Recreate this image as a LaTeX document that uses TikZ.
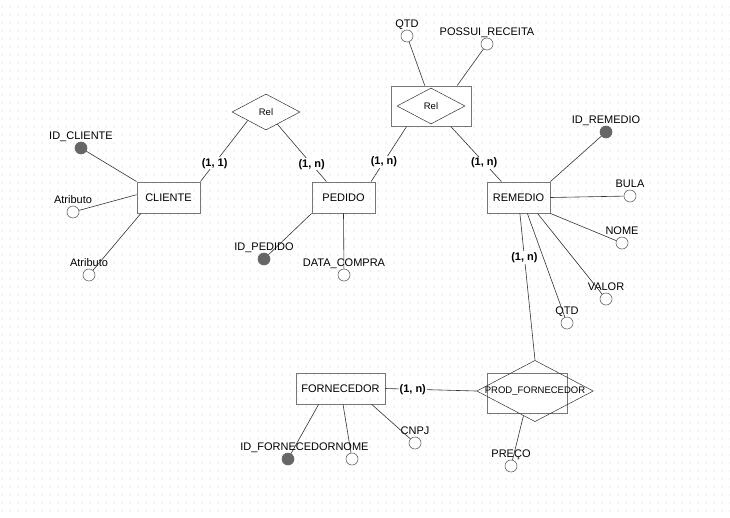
\documentclass[tikz,border=0pt]{standalone}
\usepackage{fontspec}
\setmainfont{Liberation Sans}
\usetikzlibrary{shapes.geometric}
\definecolor{edgegray}{HTML}{333333}
\definecolor{boxgray}{HTML}{777777}
\definecolor{keygray}{HTML}{666666}
\begin{document}
\begin{tikzpicture}[x=1pt, y=-1pt, font=\fontsize{11}{13}\selectfont]
        \tikzset{entity/.style={draw=boxgray, line width=0.9pt, minimum width=63pt, minimum height=31pt, inner sep=0pt},
            relbox/.style={diamond, draw=edgegray, line width=0.5pt, aspect=1.9, inner sep=0pt, font=\fontsize{9.5}{11}\selectfont},
            attr/.style={circle, draw=keygray, line width=0.6pt, fill=white, minimum size=12pt, inner sep=0pt},
            keyattr/.style={attr, fill=keygray},
            lbl/.style={anchor=base, inner sep=0pt},
            card/.style={fill=white, inner sep=1pt, font=\bfseries\fontsize{11}{13}\selectfont},
            conn/.style={draw=edgegray, line width=0.6pt}}
        \useasboundingbox (0,0) rectangle (730,517);
        % dotted background
        \foreach \i in {0,...,91}
            \foreach \j in {0,...,64}
                \fill[black!22] (2+8*\i, 7+8*\j) circle (0.6pt);
        % entities
        \node[entity] (cliente) at (168.5,197.5) {CLIENTE};
        \node[entity] (pedido) at (343.5,197.5) {PEDIDO};
        \node[entity] (remedio) at (518.5,197.5) {REMEDIO};
        \node[entity, minimum width=89pt] (fornecedor) at (340.5,388.5) {FORNECEDOR};
        % relationships
        \node[relbox, minimum width=68pt, minimum height=36pt, fill=white] (relcp) at (266,112) {Rel};
        \node[entity, minimum width=80pt, minimum height=40pt, fill=white] (relprbox) at (431,106) {};
        \node[relbox, minimum width=68pt, minimum height=36pt] (relpr) at (431,106) {Rel};
        \node[entity, minimum width=80pt, minimum height=40pt, fill=white] (prodbox) at (527,393) {};
        \node[relbox, minimum width=110pt, minimum height=36pt] (prodforn) at (535,391) {PROD\_FORNECEDOR};
        % attributes
        \node[keyattr] (idcliente) at (81,148) {};
        \node[attr] (atrib1) at (73,212) {};
        \node[attr] (atrib2) at (89,275) {};
        \node[keyattr] (idpedido) at (264,259) {};
        \node[attr] (datacompra) at (344,275) {};
        \node[attr] (qtdrel) at (407,36) {};
        \node[attr] (receita) at (487,44) {};
        \node[keyattr] (idremedio) at (606,132) {};
        \node[attr] (bula) at (630,196) {};
        \node[attr] (nome) at (622,243) {};
        \node[attr] (valor) at (606,299) {};
        \node[attr] (qtdrem) at (567,323) {};
        \node[keyattr] (idforn) at (288,459) {};
        \node[attr] (nomeforn) at (352,459) {};
        \node[attr] (cnpj) at (415,443) {};
        \node[attr] (preco) at (511,466) {};
        % attribute labels
        \node[lbl] at ([yshift=2pt]idcliente.north) {ID\_CLIENTE};
        \node[lbl] at ([yshift=2pt]atrib1.north) {Atributo};
        \node[lbl] at ([yshift=2pt]atrib2.north) {Atributo};
        \node[lbl] at ([yshift=2pt]qtdrel.north) {QTD};
        \node[lbl] at ([yshift=2pt]receita.north) {POSSUI\_RECEITA};
        \node[lbl] at ([yshift=2pt]idremedio.north) {ID\_REMEDIO};
        \node[lbl] at ([yshift=2pt]bula.north) {BULA};
        \node[lbl] at ([yshift=2pt]nome.north) {NOME};
        \node[lbl] at ([yshift=2pt]valor.north) {VALOR};
        \node[lbl] at ([yshift=2pt]qtdrem.north) {QTD};
        \node[lbl] at ([yshift=2pt]cnpj.north) {CNPJ};
        \node[lbl] at ([yshift=2pt]preco.north) {PREÇO};
        % attribute links
        \draw[conn] (cliente.north west) -- (idcliente);
        \draw[conn] (cliente.175) -- (atrib1);
        \draw[conn] (cliente.-150) -- (atrib2);
        \draw[conn] (pedido.south west) -- (idpedido);
        \draw[conn] (pedido.south) -- (datacompra);
        \draw[conn] (relprbox.107) -- (qtdrel);
        \draw[conn] (relprbox.38) -- (receita);
        \draw[conn] (remedio.north east) -- (idremedio);
        \draw[conn] (remedio.east) -- (bula);
        \draw[conn] (remedio.south east) -- (nome);
        \draw[conn] (remedio.-40) -- (valor);
        \draw[conn] (remedio.-61) -- (qtdrem);
        \draw[conn] (fornecedor.-144) -- (idforn);
        \draw[conn] (fornecedor.-81) -- (nomeforn);
        \draw[conn] (fornecedor.-27) -- (cnpj);
        \draw[conn] (prodforn.-115) -- (preco);
        % labels drawn over the lines
        \node[lbl] at ([yshift=2pt]idpedido.north) {ID\_PEDIDO};
        \node[lbl] at ([yshift=2pt]datacompra.north) {DATA\_COMPRA};
        \node[lbl] at ([yshift=2pt]idforn.north) {ID\_FORNECEDOR};
        \node[lbl] at ([yshift=2pt]nomeforn.north) {NOME};
        % relationship links
        \draw[conn] (cliente.north east) -- node[card, pos=0.3] {(1, 1)} (relcp.-155);
        \draw[conn] (relcp.-47) -- node[card, pos=0.7] {(1, n)} (pedido.137);
        \draw[conn] (pedido.30) -- node[card, pos=0.36] {(1, n)} (relprbox.-140);
        \draw[conn] (relprbox.-46) -- node[card, pos=0.66] {(1, n)} (remedio.137);
        \draw[conn] (remedio.-85) -- node[card, pos=0.3] {(1, n)} (prodforn.north);
        \draw[conn] (fornecedor.east) -- node[card, pos=0.3] {(1, n)} (prodforn.west);
    \end{tikzpicture}
\end{document}
